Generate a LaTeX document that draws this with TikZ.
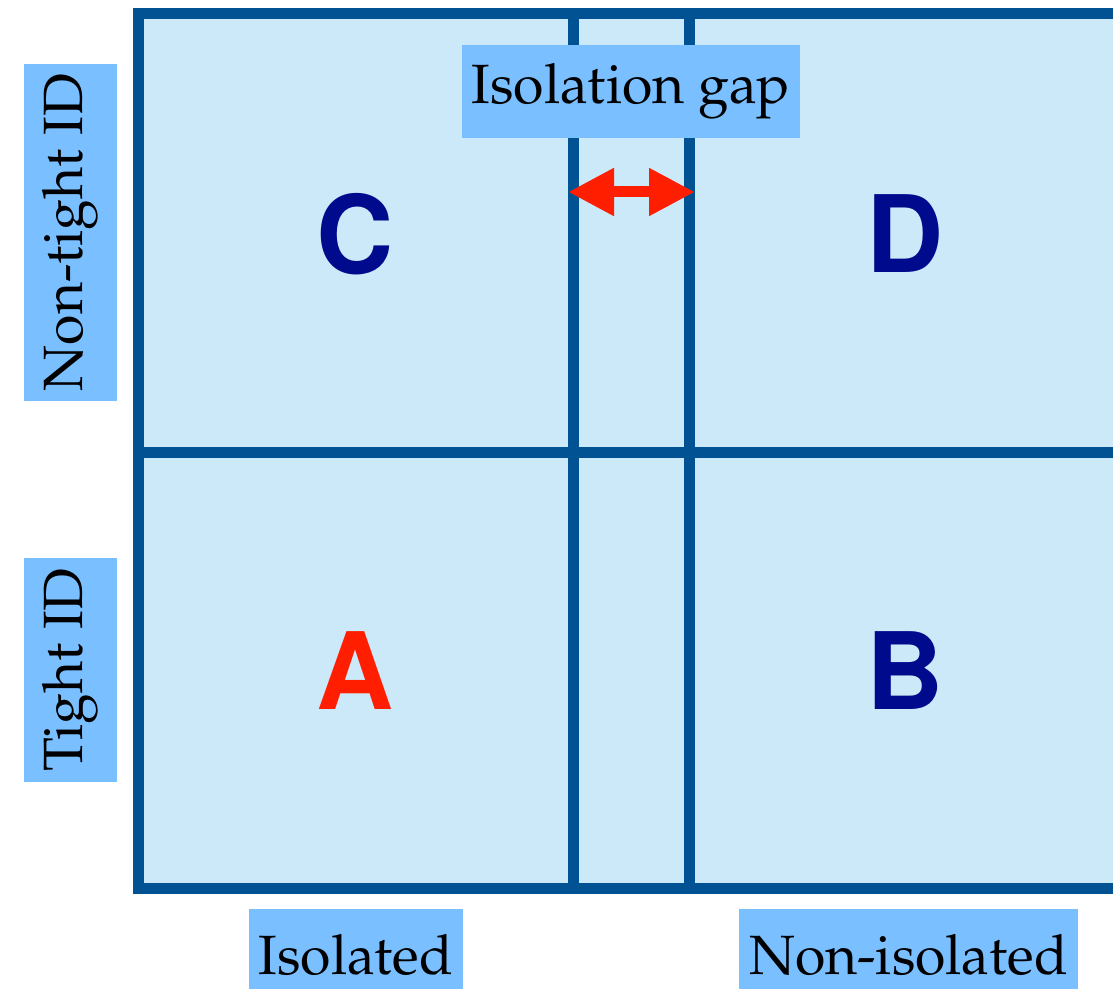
\documentclass[tikz,border=0pt]{standalone}
\usepackage[T1]{fontenc}
\usepackage{mathpazo}
\usepackage[scaled]{helvet}
\usepackage{tikz}
\usetikzlibrary{arrows.meta, positioning}
\definecolor{gridblue}{RGB}{0, 82, 147}
\definecolor{cellbg}{RGB}{204, 233, 250}
\definecolor{tagblue}{RGB}{122, 191, 255}
\definecolor{lettnavy}{RGB}{0, 10, 140}
\definecolor{gapred}{RGB}{255, 30, 0}

\begin{document}
\begin{tikzpicture}[
    tag/.style={rectangle, fill=tagblue, inner xsep=0.2cm, minimum height=1.86cm, font=\fontsize{31.5}{37}\selectfont},
    vtag/.style={tag, rotate=90},
    gridline/.style={draw=gridblue, line width=0.22cm},
    letter/.style={font=\fontsize{64}{70}\selectfont\sffamily\bfseries, text=lettnavy},
    gaparrow/.style={draw=gapred, line width=0.22cm, {Triangle[length=0.92cm, width=0.9cm]}-{Triangle[length=0.92cm, width=0.9cm]}}
  ]
    \useasboundingbox (0,0) rectangle (22.26,19.76);
    % cells and grid
    \fill[cellbg] (2.77,1.99) rectangle (22.7,19.49);
    \draw[gridline] (11.46,1.99) -- (11.46,19.49);
    \draw[gridline] (13.78,1.99) -- (13.78,19.49);
    \draw[gridline] (2.77,10.72) -- (22.7,10.72);
    \draw[gridline] (2.77,1.99) rectangle (22.7,19.49);

    \node (regC) [letter] at (7.11,15.07) {C};
    \node (regD) [letter] at (18.1,15.07) {D};
    \node (regA) [letter, text=gapred] at (7.1,6.32) {A};
    \node (regB) [letter] at (18.1,6.32) {B};

    \node (gaptag) [tag] at (12.62,17.93) {Isolation gap};
    \coordinate (gapL) at (11.36,15.92);
    \coordinate (gapR) at (13.9,15.92);
    \draw[gaparrow] (gapL) -- (gapR);

    \node (nontight) [vtag] at (1.4,15.11) {Non-tight ID};
    \node (tight) [vtag] at (1.4,6.36) {Tight ID};
    \node (iso) [tag] at (7.12,0.65) {Isolated};
    \node (noniso) [tag] at (18.17,0.65) {Non-isolated};
\end{tikzpicture}
\end{document}
